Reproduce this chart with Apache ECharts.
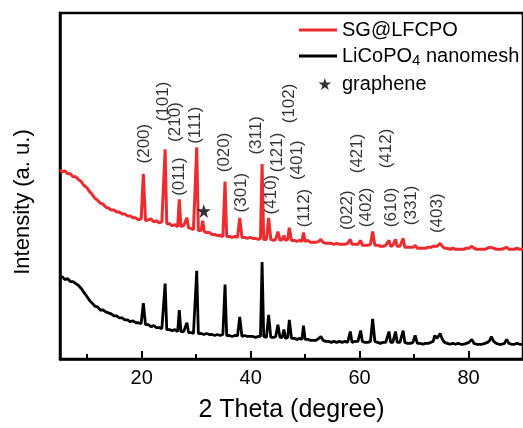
<!DOCTYPE html>
<html>
<head>
<meta charset="utf-8">
<script src="https://cdn.jsdelivr.net/npm/echarts@6/dist/echarts.min.js"></script>
<style>
  html, body { margin: 0; padding: 0; background: #fff; }
  #chart { width: 523px; height: 428px; }
</style>
</head>
<body>
<div id="chart"></div>
<script>
// x ticks (degrees)
const tickLabels = [20, 40, 60, 80]
const minorTicks = [10, 30, 50, 70]

// LiCoPO4 nanomesh, [2theta, intensity a.u.]
const blackPattern = [[5.0,83],[5.4,84],[5.9,81],[6.4,82],[6.9,79],[7.4,79],[7.9,77],[8.4,75],[8.9,72],[9.4,68],[9.9,64],[10.4,60],[10.9,57],[11.4,54],[11.9,53],[12.4,50],[12.9,50],[13.4,48],[13.9,47],[14.4,46],[14.9,44],[15.4,44],[15.9,42],[16.4,42],[16.9,40],[17.4,40],[17.9,38],[18.4,39],[18.9,37],[19.4,37],[19.9,36],[20.3,57],[20.7,35],[21.2,35],[21.7,33],[22.2,34],[22.7,32],[23.2,32],[23.7,31],[24.0,31],[24.3,77],[24.6,30],[25.1,30],[25.6,29],[26.1,30],[26.6,28],[26.9,50],[27.2,28],[27.7,28],[28.0,27],[28.3,37],[28.6,27],[29.1,27],[29.5,26],[29.8,27],[30.1,90],[30.4,26],[30.9,26],[31.4,25],[31.9,26],[32.4,25],[32.9,25],[33.4,24],[33.9,25],[34.4,24],[34.9,25],[35.0,25],[35.3,76],[35.6,24],[36.1,24],[36.6,23],[37.1,24],[37.6,24],[38.0,43],[38.4,23],[38.9,24],[39.4,23],[39.9,23],[40.4,23],[40.9,22],[41.4,23],[41.8,23],[42.1,99],[42.4,23],[42.9,22],[43.3,45],[43.7,22],[44.2,22],[44.6,23],[45.0,35],[45.4,22],[45.8,22],[46.1,30],[46.4,21],[46.8,22],[47.1,40],[47.5,21],[48.0,21],[48.5,20],[49.0,21],[49.4,20],[49.7,34],[50.0,20],[50.5,20],[51.0,19],[51.5,19],[52.0,19],[52.5,21],[52.9,23],[53.3,19],[53.8,18],[54.3,18],[54.8,17],[55.3,18],[55.8,17],[56.3,18],[56.8,17],[57.3,18],[57.8,17],[58.0,18],[58.3,28],[58.6,17],[59.2,18],[59.7,18],[60.0,20],[60.2,29],[60.5,18],[61.0,17],[61.5,17],[62.0,18],[62.4,41],[62.8,18],[63.3,17],[63.8,16],[64.3,17],[64.8,17],[65.1,17],[65.4,28],[65.7,17],[66.1,17],[66.3,18],[66.6,28],[66.9,17],[67.4,17],[67.7,18],[68.0,29],[68.3,17],[68.8,16],[69.3,16],[69.8,17],[70.2,24],[70.6,16],[71.1,16],[71.6,15],[72.1,16],[72.6,16],[73.1,17],[73.5,18],[73.8,24],[74.2,21],[74.5,22],[74.8,26],[75.2,20],[75.6,17],[76.1,16],[76.6,15],[77.1,16],[77.6,15],[78.1,16],[78.6,15],[79.1,15],[79.6,16],[80.1,17],[80.6,20],[81.0,16],[81.5,15],[82.0,15],[82.5,15],[83.0,16],[83.5,17],[83.9,19],[84.2,23],[84.6,18],[85.1,16],[85.6,15],[86.1,15],[86.6,16],[87.0,20],[87.4,16],[87.9,15],[88.4,15],[88.9,16],[89.4,15],[90.0,15]]

// SG@LFCPO
const redPattern = [[5.0,193],[5.4,191],[5.9,192],[6.4,189],[6.9,189],[7.4,186],[7.9,186],[8.4,183],[8.9,181],[9.4,177],[9.9,175],[10.4,171],[10.9,168],[11.4,164],[11.9,162],[12.4,159],[12.9,158],[13.4,155],[13.9,154],[14.4,152],[14.9,152],[15.4,150],[15.9,150],[16.4,148],[16.9,148],[17.4,146],[17.9,146],[18.4,144],[18.9,144],[19.4,142],[19.9,143],[20.3,189],[20.7,141],[21.2,142],[21.7,143],[22.2,140],[22.7,141],[23.2,139],[23.7,140],[24.0,139],[24.3,214],[24.6,138],[25.1,138],[25.6,136],[26.1,137],[26.6,135],[26.9,163],[27.2,135],[27.7,136],[28.0,134],[28.3,144],[28.6,134],[29.1,133],[29.5,132],[29.8,133],[30.1,216],[30.4,131],[30.9,131],[31.2,141],[31.5,130],[31.9,129],[32.4,129],[32.9,127],[33.4,127],[33.9,126],[34.4,126],[34.9,125],[35.0,126],[35.3,181],[35.6,125],[36.1,125],[36.6,124],[37.1,125],[37.6,124],[38.0,144],[38.4,124],[38.9,124],[39.4,123],[39.9,124],[40.4,123],[40.9,123],[41.4,122],[41.8,123],[42.1,199],[42.4,122],[42.9,122],[43.3,144],[43.7,122],[44.2,121],[44.6,122],[45.0,130],[45.4,121],[45.8,122],[46.1,126],[46.4,121],[46.8,122],[47.1,134],[47.5,121],[48.0,121],[48.5,120],[49.0,121],[49.4,120],[49.7,129],[50.0,120],[50.5,121],[51.0,119],[51.5,119],[52.0,119],[52.5,120],[52.9,122],[53.3,119],[53.8,118],[54.3,118],[54.8,118],[55.3,117],[55.8,118],[56.3,117],[56.8,117],[57.3,117],[57.8,118],[58.0,117],[58.3,122],[58.6,117],[59.2,117],[59.7,117],[60.0,118],[60.2,121],[60.5,116],[61.0,116],[61.5,116],[62.0,117],[62.4,130],[62.8,116],[63.3,116],[63.8,115],[64.3,115],[64.8,116],[65.1,116],[65.4,121],[65.7,115],[66.1,116],[66.3,116],[66.6,122],[66.9,115],[67.4,115],[67.7,116],[68.0,123],[68.3,114],[68.8,114],[69.3,114],[69.8,114],[70.2,116],[70.6,113],[71.1,113],[71.6,113],[72.1,113],[72.6,114],[73.1,114],[73.5,115],[73.8,117],[74.2,115],[74.5,116],[74.8,118],[75.2,115],[75.6,113],[76.1,113],[76.6,112],[77.1,113],[77.6,112],[78.1,112],[78.6,112],[79.1,112],[79.6,113],[80.1,113],[80.6,115],[81.0,113],[81.5,112],[82.0,112],[82.5,112],[83.0,112],[83.5,113],[83.9,114],[84.2,115],[84.6,113],[85.1,112],[85.6,112],[86.1,112],[86.6,113],[87.0,114],[87.4,112],[87.9,112],[88.4,112],[88.9,113],[89.4,112],[90.0,112]]

// graphene peak marker
const graphenePeak = [[31.4, 151]]

// (hkl) index labels: text, 2theta, intensity where the text starts
const hklLabels = [
  ['(200)', 20.5, 199], ['(101)', 24.0, 242], ['(210)', 26.3, 221], ['(011)', 27.0, 166],
  ['(111)', 29.9, 219], ['(020)', 35.2, 190], ['(301)', 38.3, 149], ['(311)', 41.2, 208],
  ['(410)', 43.9, 147], ['(121)', 44.9, 190], ['(102)', 47.2, 240], ['(401)', 48.7, 182],
  ['(112)', 50.0, 134], ['(022)', 57.8, 131], ['(421)', 59.6, 189], ['(402)', 61.4, 134],
  ['(412)', 65.0, 194], ['(610)', 66.0, 134], ['(331)', 69.5, 136], ['(403)', 74.3, 128],
]

const FONT = 'Liberation Sans, Arial, sans-serif'
const RED = '#ee2b2e'
const starPath = 'M10,0 L12.25,6.91 L19.51,6.91 L13.63,11.18 L15.88,18.09 L10,13.82 L4.12,18.09 L6.37,11.18 L0.49,6.91 L7.75,6.91 Z'
// legend icons: a plain bar for the patterns, the star pushed to the right of its box
const legendBar = 'path://M0,0 L38,0 L38,3 L0,3 Z'
const legendStar = 'path://M-28,-1.5 L-27.99,-1.5 M27.5,19.5 L27.49,19.5 M10,0 L12.25,6.91 L19.51,6.91 L13.63,11.18 L15.88,18.09 L10,13.82 L4.12,18.09 L6.37,11.18 L0.49,6.91 L7.75,6.91 Z'

const chart = echarts.init(document.getElementById('chart'), null, { renderer: 'canvas' })

const option = {
  animation: false,
  textStyle: { fontFamily: FONT },
  grid: {
    left: 60, top: 13, width: 472, height: 353,
    show: true, borderColor: '#000', borderWidth: 2.5, backgroundColor: 'transparent',
  },
  legend: {
    orient: 'vertical',
    left: 294,
    top: 15,
    itemWidth: 38,
    itemHeight: 14,
    itemGap: 6,
    selectedMode: false,
    textStyle: {
      fontFamily: FONT, fontSize: 20, color: '#000',
      rich: { sub: { fontFamily: FONT, fontSize: 15, padding: [9, 0, 0, 0], color: '#000' } },
    },
    formatter: name => (name === 'LiCoPO4 nanomesh' ? 'LiCoPO{sub|4} nanomesh' : name),
    data: [
      { name: 'SG@LFCPO', icon: legendBar },
      { name: 'LiCoPO4 nanomesh', icon: legendBar },
      { name: 'graphene', icon: legendStar },
    ],
  },
  xAxis: [{
    type: 'value',
    min: 5,
    max: 90,
    name: '2 Theta (degree)',
    nameLocation: 'middle',
    nameGap: 39,
    nameTextStyle: { fontFamily: FONT, fontSize: 25, color: '#000' },
    axisLine: { lineStyle: { color: '#000', width: 2.5 } },
    axisTick: { inside: true, length: 8, lineStyle: { color: '#000', width: 2 }, customValues: tickLabels },
    axisLabel: { fontFamily: FONT, fontSize: 20, color: '#000', margin: 9, customValues: tickLabels },
    splitLine: { show: false },
  }, {
    type: 'value',
    min: 5,
    max: 90,
    position: 'bottom',
    axisLine: { show: false },
    axisTick: { inside: true, length: 5, lineStyle: { color: '#000', width: 2 }, customValues: minorTicks },
    axisLabel: { show: false },
    splitLine: { show: false },
  }],
  yAxis: {
    type: 'value',
    min: 0,
    max: 353,
    // trailing spacer nudges the rotated title down the axis
    name: 'Intensity (a. u.){gap|}',
    nameLocation: 'middle',
    nameGap: 26,
    nameTextStyle: {
      fontFamily: FONT, fontSize: 22, color: '#000',
      rich: { gap: { width: 32 } },
    },
    axisLine: { lineStyle: { color: '#000', width: 2.5 } },
    axisTick: { show: false },
    axisLabel: { show: false },
    splitLine: { show: false },
  },
  series: [
    {
      name: 'SG@LFCPO',
      type: 'line',
      data: redPattern,
      symbol: 'none',
      lineStyle: { color: RED, width: 3 },
      itemStyle: { color: RED },
      z: 3,
    },
    {
      name: 'LiCoPO4 nanomesh',
      type: 'line',
      data: blackPattern,
      symbol: 'none',
      lineStyle: { color: '#000', width: 2.8 },
      itemStyle: { color: '#000' },
      z: 3,
    },
    {
      name: 'graphene',
      type: 'scatter',
      data: graphenePeak,
      symbol: 'path://' + starPath,
      symbolSize: 14,
      itemStyle: { color: '#000' },
      z: 4,
    },
    {
      name: 'hkl',
      type: 'scatter',
      silent: true,
      symbolSize: 1,
      itemStyle: { color: 'rgba(0,0,0,0)' },
      data: hklLabels.map(d => ({ value: [d[1], d[2]], label: { formatter: d[0] } })),
      label: {
        show: true,
        position: [0, 0],
        rotate: 90,
        align: 'left',
        verticalAlign: 'middle',
        fontFamily: FONT,
        fontSize: 17,
        color: '#000',
      },
      z: 5,
    },
  ],
}

chart.setOption(option)
</script>
</body>
</html>
